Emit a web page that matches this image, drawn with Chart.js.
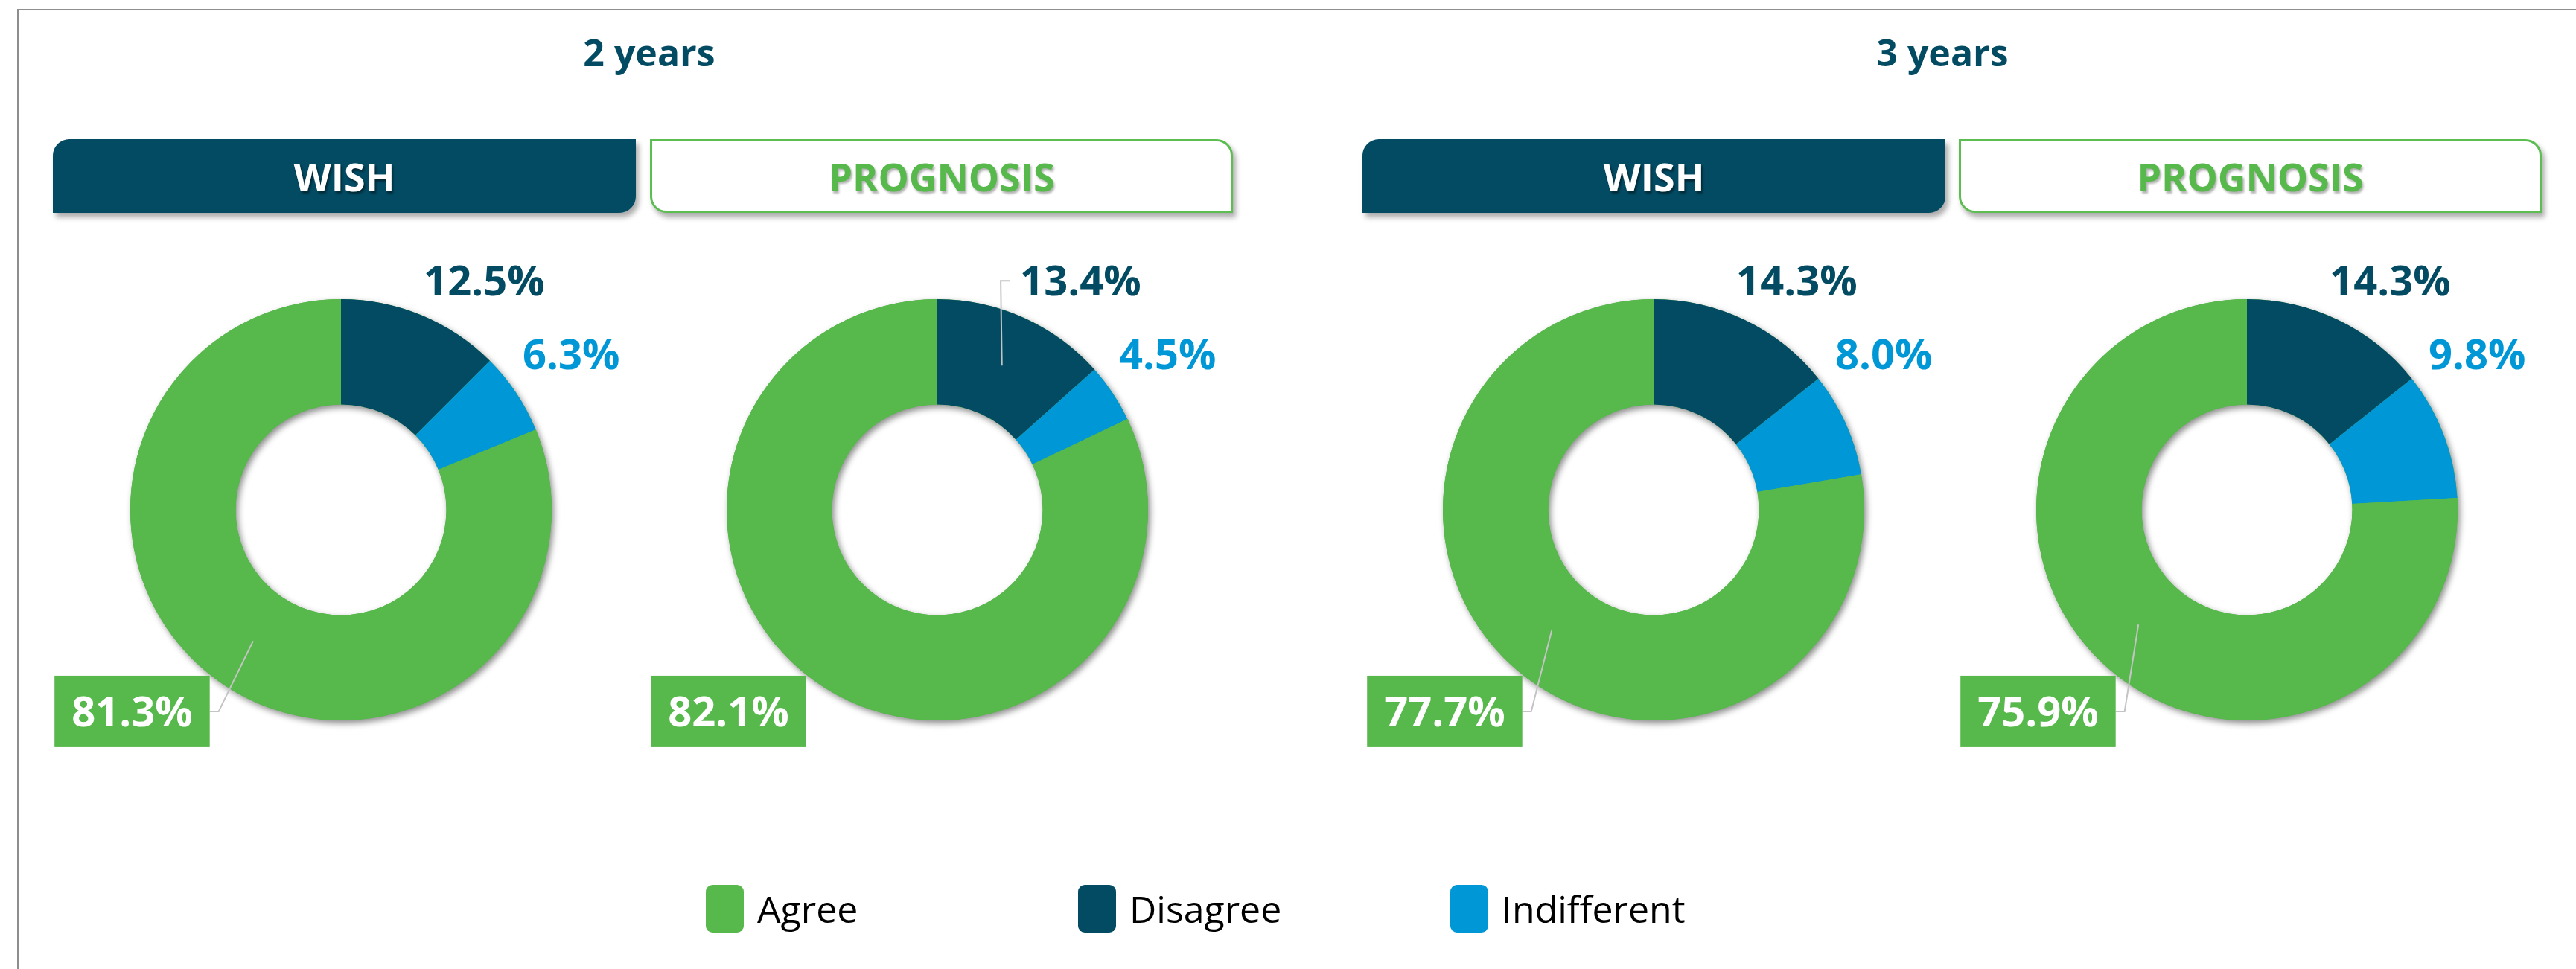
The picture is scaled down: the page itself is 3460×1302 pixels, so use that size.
<!DOCTYPE html>
<html>
<head>
<meta charset="utf-8">
<title>Wish vs prognosis</title>
<script src="https://cdn.jsdelivr.net/npm/chart.js@4.4.1/dist/chart.umd.min.js"></script>
<style>
  html, body { margin: 0; padding: 0; background: #fff; }
  body { width: 3460px; height: 1302px; position: relative; overflow: hidden; font-family: 'Open Sans', sans-serif; }
  .frame { position: absolute; left: 23px; top: 12px; right: -10px; bottom: -10px; border-top: 2px solid #8e8e8e; border-left: 3px solid #8e8e8e; }
  .period { position: absolute; top: 40px; width: 400px; margin-left: -200px; text-align: center; font-weight: 700; font-size: 50px; line-height: 60px; color: #024b63; }
  .tab { position: absolute; top: 187px; height: 99px; width: 783px; box-sizing: border-box; display: flex; align-items: center; justify-content: center; font-weight: 700; font-size: 52px; box-shadow: 4px 6px 7px rgba(0,0,0,0.33); }
  .tab.wish { background: #024b63; color: #fff; border-radius: 22px 0 22px 0; text-shadow: 2px 3px 3px rgba(0,0,0,0.45); }
  .tab.prognosis { background: #fff; color: #57b84b; border: 3px solid #5cbd50; border-radius: 0 22px 0 22px; text-shadow: 2px 3px 3px rgba(0,0,0,0.3); }
  .donut { position: absolute; top: 305px; }
  .legend-item { position: absolute; top: 1189px; height: 64px; display: flex; align-items: center; font-size: 50px; line-height: 64px; color: #000; }
  .swatch { width: 51px; height: 64px; border-radius: 9px; margin-right: 18px; }
</style>
</head>
<body>
<div class="frame"></div>
<div id="stage"></div>

<script>
// Data
const categories = ['Agree', 'Disagree', 'Indifferent'];
const periods = ['2 years', '3 years'];
const views = ['WISH', 'PROGNOSIS'];

const wish2y = [81.3, 12.5, 6.3];
const prognosis2y = [82.1, 13.4, 4.5];
const wish3y = [77.7, 14.3, 8.0];
const prognosis3y = [75.9, 14.3, 9.8];

const seriesList = [wish2y, prognosis2y, wish3y, prognosis3y];

// slices go clockwise from 12 o'clock: Disagree, Indifferent, then Agree
const drawOrder = [1, 2, 0];

const colors = { Agree: '#57b84b', Disagree: '#024b63', Indifferent: '#0097d6' };

// which labels get a leader line, per donut
const leaderLines = [['Agree'], ['Disagree'], ['Agree'], ['Agree']];

// label placement around the ring (angle from top, clockwise; distance from centre)
const labelSpots = {
  Disagree: { angle: 32, dist: 363, boxed: false },
  Indifferent: { angle: 56, dist: 373, boxed: false },
  Agree: { angle: 226, dist: 390, boxed: true }
};

// Layout
const periodCenters = [872, 2609];
const tabLefts = [71, 873, 1830, 2631];
const donutCenters = [458, 1259, 2221, 3018];
const legendLefts = [948, 1448, 1948];

const stage = document.getElementById('stage');

periods.forEach((p, i) => {
  const el = document.createElement('div');
  el.className = 'period';
  el.style.left = periodCenters[i] + 'px';
  el.textContent = p;
  stage.appendChild(el);
});

tabLefts.forEach((x, i) => {
  const view = views[i % 2];
  const el = document.createElement('div');
  el.className = 'tab ' + view.toLowerCase();
  el.style.left = x + 'px';
  el.textContent = view;
  stage.appendChild(el);
});

categories.forEach((c, i) => {
  const item = document.createElement('div');
  item.className = 'legend-item';
  item.style.left = legendLefts[i] + 'px';
  const sw = document.createElement('span');
  sw.className = 'swatch';
  sw.style.background = colors[c];
  item.appendChild(sw);
  item.appendChild(document.createTextNode(c));
  stage.appendChild(item);
});

// soft drop shadow under the whole ring
const ringShadow = {
  id: 'ringShadow',
  beforeDatasetsDraw(chart) {
    const arc = chart.getDatasetMeta(0).data[0];
    if (!arc) return;
    const ctx = chart.ctx;
    ctx.save();
    ctx.shadowColor = 'rgba(0,0,0,0.45)';
    ctx.shadowBlur = 9;
    ctx.shadowOffsetX = 3;
    ctx.shadowOffsetY = 4;
    ctx.fillStyle = colors.Agree;
    ctx.beginPath();
    ctx.arc(arc.x, arc.y, arc.outerRadius, 0, Math.PI * 2);
    ctx.arc(arc.x, arc.y, arc.innerRadius, 0, Math.PI * 2, true);
    ctx.fill();
    ctx.restore();
  }
};

// percentage labels + leader lines
const sliceLabels = {
  id: 'sliceLabels',
  afterDatasetsDraw(chart, args, opts) {
    const ctx = chart.ctx;
    const ds = chart.data.datasets[0];
    chart.getDatasetMeta(0).data.forEach((arc, i) => {
      const cat = chart.data.labels[i];
      const spot = labelSpots[cat];
      const rad = spot.angle * Math.PI / 180;
      const ax = arc.x + Math.sin(rad) * spot.dist;
      const ay = arc.y - Math.cos(rad) * spot.dist;
      const text = ds.data[i].toFixed(1) + '%';

      ctx.save();
      ctx.font = '700 56px "Open Sans"';
      const w = ctx.measureText(text).width;
      const bw = spot.boxed ? w + 46 : w;
      const bh = 96;
      const left = ax - bw / 2, right = ax + bw / 2;

      if (opts.leaders.includes(cat)) {
        const c = arc.getCenterPoint();
        const side = c.x > ax ? 1 : -1;
        const start = (side > 0 ? right : left) + side * (spot.boxed ? 0 : 14);
        ctx.strokeStyle = '#c4c4c4';
        ctx.lineWidth = 2;
        ctx.beginPath();
        ctx.moveTo(start, ay);
        ctx.lineTo(start + side * 12, ay);
        ctx.lineTo(c.x, c.y);
        ctx.stroke();
      }

      if (spot.boxed) {
        ctx.fillStyle = colors[cat];
        ctx.fillRect(left, ay - bh / 2, bw, bh);
      }
      ctx.fillStyle = spot.boxed ? '#fff' : colors[cat];
      ctx.textAlign = 'center';
      ctx.textBaseline = 'alphabetic';
      ctx.fillText(text, ax, ay + 20);
      ctx.restore();
    });
  }
};

seriesList.forEach((values, k) => {
  const canvas = document.createElement('canvas');
  canvas.width = 800;
  canvas.height = 760;
  canvas.className = 'donut';
  canvas.style.left = (donutCenters[k] - 400) + 'px';
  stage.appendChild(canvas);

  new Chart(canvas.getContext('2d'), {
    type: 'doughnut',
    data: {
      labels: drawOrder.map(i => categories[i]),
      datasets: [{
        data: drawOrder.map(i => values[i]),
        backgroundColor: drawOrder.map(i => colors[categories[i]]),
        borderWidth: 0,
        hoverOffset: 0
      }]
    },
    options: {
      responsive: false,
      animation: false,
      events: [],
      cutout: '50%',
      layout: { padding: { left: 117, right: 117, top: 97, bottom: 97 } },
      plugins: {
        legend: { display: false },
        tooltip: { enabled: false },
        sliceLabels: { leaders: leaderLines[k] }
      }
    },
    plugins: [ringShadow, sliceLabels]
  });
});
</script>
</body>
</html>
